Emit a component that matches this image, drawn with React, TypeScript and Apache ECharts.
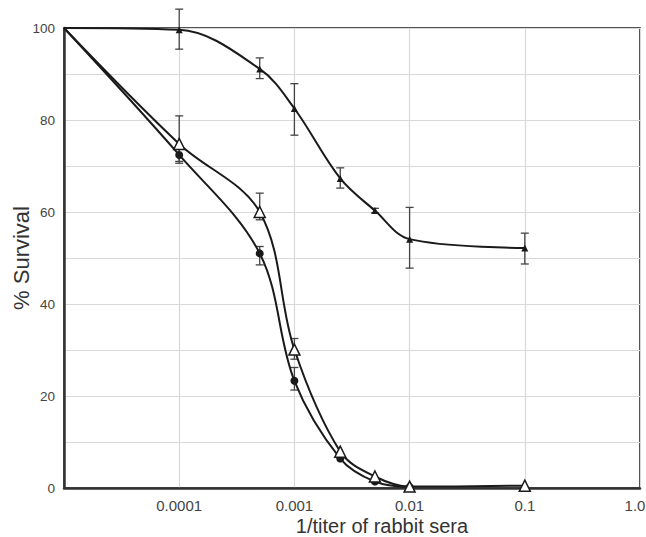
import React, { useEffect, useRef } from "react";
import * as echarts from "echarts";

// 1/titer of rabbit sera (x, log scale)
const xValues = [0.00001, 0.0001, 0.0005, 0.001, 0.0025, 0.005, 0.01, 0.1];

// % Survival
const seriesTop = [100, 99.6, 91.1, 82.5, 67.3, 60.3, 54.1, 52.2]; // small filled triangles
const seriesOpen = [100, 74.8, 60.0, 30.1, 7.9, 2.5, 0.3, 0.5]; // open triangles
const seriesCircle = [100, 72.4, 51.0, 23.3, 6.4, 1.4, 0.2]; // filled circles

// error bars: [x, low, high]
const errTop = [
  [0.0001, 95.4, 104.1],
  [0.0005, 89.0, 93.5],
  [0.001, 76.7, 87.9],
  [0.0025, 65.2, 69.6],
  [0.005, 59.8, 60.8],
  [0.01, 47.8, 61.0],
  [0.1, 48.7, 55.4],
];
const errOpen = [
  [0.0001, 70.6, 80.9],
  [0.0005, 58.3, 64.1],
  [0.001, 28.0, 32.5],
];
const errCircle = [
  [0.0001, 71.0, 74.0],
  [0.0005, 48.5, 52.5],
  [0.001, 21.3, 26.2],
];

const xTickLabels: Record<string, string> = {
  "-5": "",
  "-4": "0.0001",
  "-3": "0.001",
  "-2": "0.01",
  "-1": "0.1",
  "0": "{last|1.0}",
};

const FONT = "'Liberation Sans', Arial, Helvetica, sans-serif";

function toPairs(vals: number[]) {
  return vals.map((v, i) =>
    i === 0
      ? { value: [xValues[i], v], symbol: "none" }
      : { value: [xValues[i], v] }
  );
}

function errorSeries(data: number[][]) {
  return {
    type: "custom",
    z: 1,
    clip: false,
    encode: { x: 0, y: [1, 2] },
    data,
    renderItem: (params: any, api: any) => {
      const x = api.value(0);
      const lo = api.coord([x, api.value(1)]);
      const hi = api.coord([x, api.value(2)]);
      const w = 4;
      const style = { stroke: "#444", lineWidth: 1.3, fill: "none" };
      return {
        type: "group",
        children: [
          { type: "line", shape: { x1: lo[0], y1: lo[1], x2: hi[0], y2: hi[1] }, style },
          { type: "line", shape: { x1: lo[0] - w, y1: lo[1], x2: lo[0] + w, y2: lo[1] }, style },
          { type: "line", shape: { x1: hi[0] - w, y1: hi[1], x2: hi[0] + w, y2: hi[1] }, style },
        ],
      };
    },
  };
}

export default function App() {
  const ref = useRef<HTMLDivElement>(null);
  useEffect(() => {
    if (!ref.current) return;
    const chart = echarts.init(ref.current, null, { renderer: "svg" });
    const lineCommon = {
      type: "line",
      smooth: 0.35,
      z: 3,
      lineStyle: { color: "#1a1a1a", width: 2 },
    };
    chart.setOption({
      animation: false,
      backgroundColor: "#ffffff",
      grid: {
        left: 64,
        right: 6,
        top: 28,
        bottom: 49,
        outerBoundsMode: "none",
        containLabel: false,
        show: true,
        borderColor: "#1a1a1a",
        borderWidth: 1.6,
        backgroundColor: "transparent",
      },
      xAxis: {
        type: "log",
        logBase: 10,
        min: 0.00001,
        max: 1,
        name: "1/titer of rabbit sera",
        nameLocation: "middle",
        nameMoveOverlap: false,
        nameGap: 29,
        nameTextStyle: {
          fontFamily: FONT,
          fontSize: 20,
          lineHeight: 18,
          color: "#333",
          padding: [0, 0, 0, 60],
        },
        axisLine: { show: true, lineStyle: { color: "#333", width: 2.5 } },
        axisTick: { show: false },
        axisLabel: {
          fontFamily: FONT,
          fontSize: 15,
          color: "#444",
          margin: 10,
          formatter: (v: number) => {
            const e = Math.round(Math.log10(v));
            return xTickLabels[String(e)] ?? "";
          },
          rich: {
            last: { fontFamily: FONT, fontSize: 15, color: "#444", padding: [0, 10, 0, 0] },
          },
        },
        splitLine: { show: true, lineStyle: { color: "#d9d9d9", width: 1.2 } },
      },
      yAxis: {
        type: "value",
        min: 0,
        max: 100,
        interval: 10,
        name: "% Survival",
        nameLocation: "middle",
        nameMoveOverlap: false,
        nameGap: 33,
        nameTextStyle: { fontFamily: FONT, fontSize: 22, lineHeight: 20, color: "#333" },
        axisLine: { show: true, lineStyle: { color: "#333", width: 2.5 } },
        axisTick: { show: false },
        axisLabel: {
          fontFamily: FONT,
          fontSize: 13.5,
          color: "#444",
          margin: 9,
          formatter: (v: number) => (v % 20 === 0 ? String(v) : ""),
        },
        splitLine: { show: true, lineStyle: { color: "#d9d9d9", width: 1.2 } },
      },
      series: [
        errorSeries(errTop),
        errorSeries(errOpen),
        errorSeries(errCircle),
        {
          ...lineCommon,
          name: "top",
          symbol: "triangle",
          symbolSize: 7,
          itemStyle: { color: "#1a1a1a" },
          data: toPairs(seriesTop),
        },
        {
          ...lineCommon,
          name: "circle",
          symbol: "circle",
          symbolSize: 8,
          itemStyle: { color: "#1a1a1a" },
          data: toPairs(seriesCircle),
        },
        {
          ...lineCommon,
          name: "open",
          symbol: "triangle",
          symbolSize: 11,
          z: 4,
          itemStyle: { color: "#ffffff", borderColor: "#1a1a1a", borderWidth: 1.5 },
          data: toPairs(seriesOpen),
        },
      ],
    });
    return () => chart.dispose();
  }, []);
  return <div ref={ref} style={{ width: 646, height: 537, position: "absolute", left: 0, top: 0 }} />;
}
